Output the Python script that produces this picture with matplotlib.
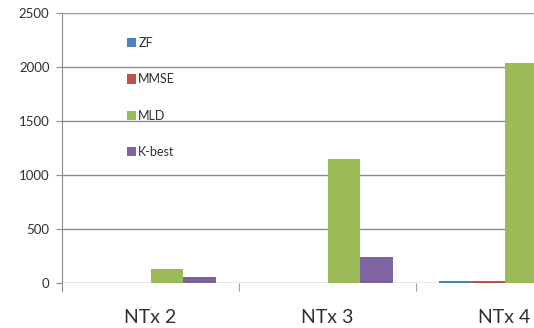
import numpy as np
import matplotlib.pyplot as plt
from matplotlib.patches import Patch

plt.rcParams['font.family'] = ['Lato', 'DejaVu Sans']

categories = ['NTx 2', 'NTx 3', 'NTx 4']
series = ['ZF', 'MMSE', 'MLD', 'K-best']
zf = [1, 3, 18]
mmse = [1, 3, 18]
mld = [130, 1150, 2040]
kbest = [55, 240, 420]
colors = ['#4F81BD', '#C0504D', '#9BBB59', '#8064A2']

fig = plt.figure(figsize=(5.34, 3.28), dpi=100)
# plot area runs past the right edge of the figure
ax = fig.add_axes([62 / 534, 45 / 328, 531 / 534, 270 / 328])

x = np.arange(len(categories))
w = 0.186
for i, (vals, c) in enumerate(zip([zf, mmse, mld, kbest], colors)):
    ax.bar(x + (i - 1.5) * w, vals, w, color=c, zorder=3, linewidth=0)

ax.set_xlim(-0.5, 2.5)
ax.set_ylim(0, 2500)
ax.set_yticks(np.arange(0, 2501, 500))
ax.grid(axis='y', color='#8c8c8c', linewidth=1, zorder=0)
ax.set_axisbelow(True)

for s in ['top', 'right', 'bottom']:
    ax.spines[s].set_visible(False)
ax.spines['left'].set_color('#8c8c8c')
ax.spines['left'].set_bounds(-75, 2500)
ax.axhline(2500, color='#8fa3bb', linewidth=1.2, zorder=1)

ax.tick_params(axis='y', length=4, color='#8c8c8c', labelsize=9.5,
               labelcolor='#303030', pad=5)
ax.set_xticks(x)
ax.set_xticklabels(categories)
ax.tick_params(axis='x', which='major', length=0, labelsize=14,
               labelcolor='#303030', pad=19)
ax.set_xticks([0.5, 1.5], minor=True)
ax.tick_params(axis='x', which='minor', length=6, color='#8c8c8c')

handles = [Patch(facecolor=c, edgecolor='none') for c in colors]
leg = ax.legend(handles, series, loc='upper left',
                bbox_to_anchor=(122 / 534, 1 - 32 / 328),
                bbox_transform=fig.transFigure, frameon=False,
                fontsize=9, labelspacing=1.95, handlelength=0.75,
                handleheight=0.75, handletextpad=0.15, borderaxespad=0)
for t in leg.get_texts():
    t.set_color('#303030')

fig.savefig('out.png', dpi=100)
